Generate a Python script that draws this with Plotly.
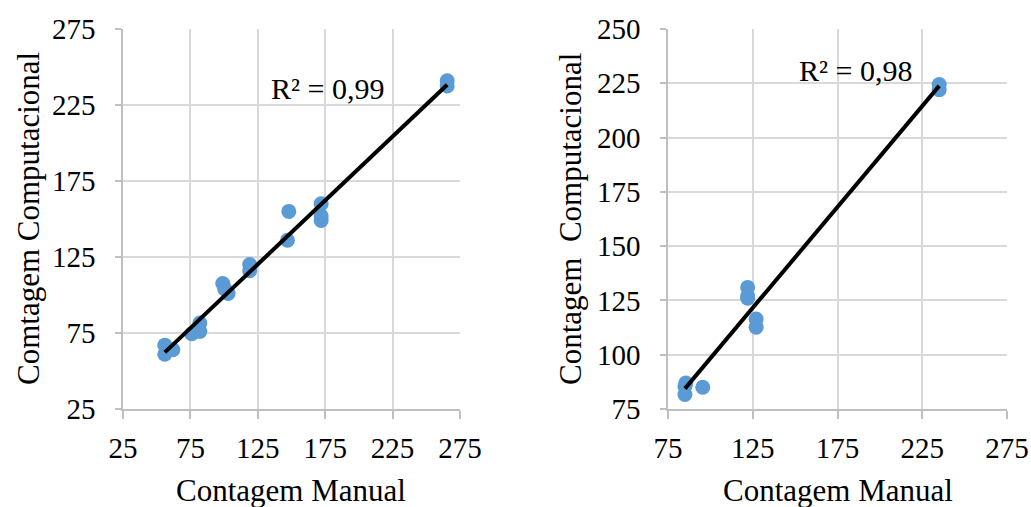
import numpy as np
import plotly.graph_objects as go

# Left panel data
left_manual = [56, 56, 62, 57, 76, 82, 82, 99, 103, 100.5, 119, 119, 148, 147, 172, 172, 172, 265.5, 265.5]
left_comp = [67, 61, 64, 63, 74.5, 81.5, 76, 107.5, 101, 104, 120, 116, 155, 136, 160, 149, 152, 241, 237.5]
# Right panel data
right_manual = [85, 85, 85.5, 95.5, 122, 122, 122, 127, 127, 235, 235]
right_comp = [85.4, 81.7, 87, 85, 131, 127, 126, 116.4, 112.7, 224.4, 222]

left_r2 = "R² = 0,99"
right_r2 = "R² = 0,98"
left_ticks = [25, 75, 125, 175, 225, 275]
right_xticks = [75, 125, 175, 225, 275]
right_yticks = [75, 100, 125, 150, 175, 200, 225, 250]
x_title = "Contagem Manual"
left_y_title = "Comtagem Computacional"
right_y_title = "Contagem\u00a0 Computacional"

BLUE = "#5b9bd5"
FONT = "Liberation Serif"
TICK_SIZE = 29
TITLE_SIZE = 31

def trend(x, y):
    x = np.array(x, float); y = np.array(y, float)
    m, b = np.polyfit(x, y, 1)
    xs = np.array([x.min(), x.max()])
    return xs, m * xs + b

fig = go.Figure()
fig.add_trace(go.Scatter(x=left_manual, y=left_comp, mode="markers",
                         marker=dict(color=BLUE, size=15), xaxis="x", yaxis="y", showlegend=False))
lx, ly = trend(left_manual, left_comp)
fig.add_trace(go.Scatter(x=lx, y=ly, mode="lines", line=dict(color="black", width=4),
                         xaxis="x", yaxis="y", showlegend=False))
fig.add_trace(go.Scatter(x=right_manual, y=right_comp, mode="markers",
                         marker=dict(color=BLUE, size=15), xaxis="x2", yaxis="y2", showlegend=False))
rx, ry = trend(right_manual, right_comp)
fig.add_trace(go.Scatter(x=rx, y=ry, mode="lines", line=dict(color="black", width=4),
                         xaxis="x2", yaxis="y2", showlegend=False))

W, H = 1031, 507
ydom = [1 - 409 / H, 1 - 29 / H]
axis_common = dict(showgrid=True, gridcolor="#d9d9d9", gridwidth=1.5, zeroline=False,
                   showline=True, linecolor="#bfbfbf", linewidth=1.5,
                   ticks="outside", tickcolor="#bfbfbf", tickwidth=1.5,
                   automargin=False,
                   tickfont=dict(family=FONT, size=TICK_SIZE, color="black"))
xaxis_extra = dict(ticklen=8, ticklabelstandoff=4)
yaxis_extra = dict(ticklen=6, ticklabelstandoff=14)

def ann(text, x, y, size=None, angle=0):
    return dict(text=text, x=x / W, y=1 - y / H, xref="paper", yref="paper", showarrow=False,
                xanchor="center", yanchor="middle", textangle=angle,
                font=dict(family=FONT, size=size or TITLE_SIZE, color="black"))

fig.update_layout(
    width=W, height=H, margin=dict(l=0, r=0, t=0, b=0),
    paper_bgcolor="white", plot_bgcolor="white",
    xaxis=dict(domain=[123 / W, 460 / W], range=[25, 275], tickvals=left_ticks, anchor="y",
               **axis_common, **xaxis_extra),
    yaxis=dict(domain=ydom, range=[25, 275], tickvals=left_ticks, anchor="x",
               **axis_common, **yaxis_extra),
    xaxis2=dict(domain=[668 / W, 1007 / W], range=[75, 275], tickvals=right_xticks, anchor="y2",
                **axis_common, **xaxis_extra),
    yaxis2=dict(domain=ydom, range=[75, 250], tickvals=right_yticks, anchor="x2",
                **axis_common, **yaxis_extra),
    annotations=[
        ann(left_r2, 327, 88, size=30),
        ann(right_r2, 855, 70, size=30),
        ann(x_title, 291, 490),
        ann(x_title, 838, 490),
        ann(left_y_title, 28, 219, angle=-90),
        ann(right_y_title, 570, 219, angle=-90),
    ],
)

fig.write_html("out.html", config={"displayModeBar": False},
               post_script="document.body.style.margin='0';document.body.style.overflow='hidden';")
